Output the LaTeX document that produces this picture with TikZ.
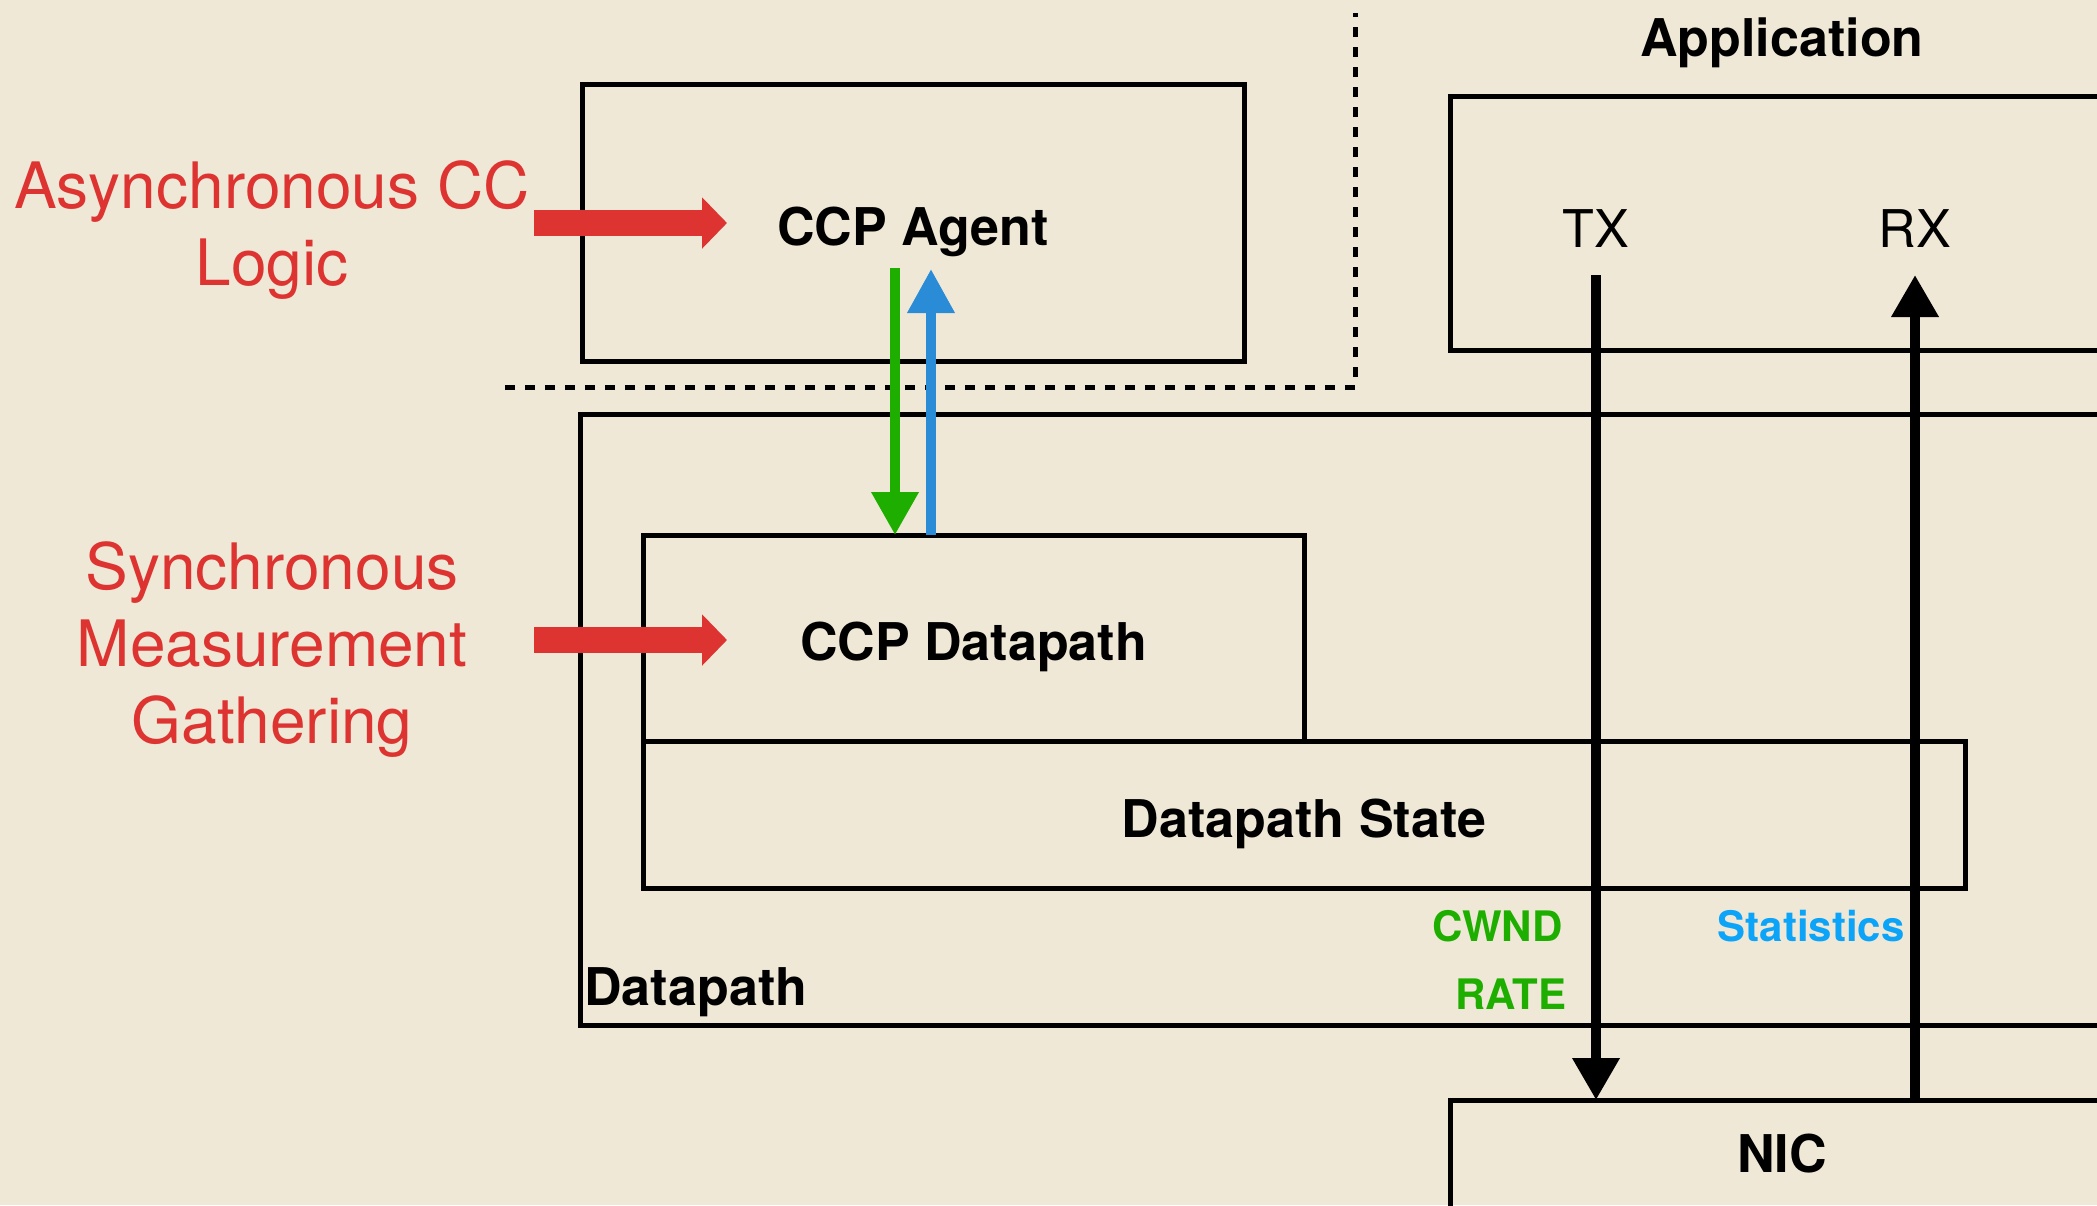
\documentclass[tikz,border=0pt]{standalone}
\usepackage{fontspec}
\setmainfont{TeX Gyre Heros}
\usetikzlibrary{arrows.meta}
\definecolor{bgc}{RGB}{239,232,214}
\definecolor{cred}{RGB}{221,51,49}
\definecolor{cgreen}{RGB}{29,174,0}
\definecolor{cblue}{RGB}{42,139,214}
\definecolor{cstat}{RGB}{11,164,248}
\begin{document}
\begin{tikzpicture}[x=0.5pt,y=-0.5pt,
  box/.style={draw=black, line width=2.5pt, anchor=north west, inner sep=0pt, outer sep=0pt,
    font=\bfseries\fontsize{26}{31}\selectfont, text height=22.7pt, text depth=0pt},
  lbl/.style={font=\bfseries\fontsize{26}{31}\selectfont, inner sep=0pt},
  rlbl/.style={font=\fontsize{26}{31}\selectfont, inner sep=0pt},
  slbl/.style={font=\bfseries\fontsize{21}{25}\selectfont, inner sep=0pt},
  redtext/.style={text=cred, align=center, inner sep=0pt, font=\fontsize{32}{38.5}\selectfont},
  redarrow/.style={draw=cred, line width=13pt, -{Triangle[width=25pt,length=12.5pt]}},
  garrow/.style={draw=cgreen, line width=5pt, -{Triangle[width=22.5pt,length=21.5pt]}},
  barrow/.style={draw=cblue, line width=5pt, -{Triangle[width=22.5pt,length=22pt]}},
  karrow/.style={draw=black, line width=5pt, -{Triangle[width=22.5pt,length=21pt]}},
  dotline/.style={draw=black, line width=2.5pt, dash pattern=on 5pt off 5pt}
]
\useasboundingbox (0,0) rectangle (2097,1205);
\fill[bgc] (0,0) rectangle (2097,1205);
\begin{scope}
\clip (0,0) rectangle (2097,1205);
% boxes
\node[box, minimum width=331pt, minimum height=138.5pt] (agent) at (582,84) {CCP Agent};
\node[box, minimum width=332pt, minimum height=127pt] (app) at (1450,96) {};
\node[box, minimum width=775pt, minimum height=305.5pt] (dpo) at (580,414) {};
\node[box, minimum width=661pt, minimum height=73.5pt] (dps) at (643,741) {Datapath State};
\node[box, minimum width=330.5pt, minimum height=103pt] (ccpdp) at (643,535) {CCP Datapath};
\node[box, minimum width=332pt, minimum height=54pt, text height=18.7pt] (nic) at (1450,1100) {NIC};
% dotted separator
\coordinate (dl) at (505,387);
\coordinate (dc) at (1355,387);
\coordinate (dt) at (1355,13);
\draw[dotline] (dl) -- (dc) -- (dt);
% labels
\node[lbl, anchor=base] (applbl) at (1782,56) {Application};
\node[rlbl, anchor=base] (tx) at (1596,247) {TX};
\node[rlbl, anchor=base] (rx) at (1915,247) {RX};
\node[lbl, anchor=base west] (dplbl) at (584,1005) {Datapath};
\node[slbl, text=cgreen, anchor=base east] (cwnd) at (1563,941) {CWND};
\node[slbl, text=cgreen, anchor=base east] (rate) at (1567,1009) {RATE};
\node[slbl, text=cstat, anchor=base east] (stats) at (1905,941) {Statistics};
\node[redtext] (async) at (272,230.5) {Asynchronous CC\\Logic};
\node[redtext] (sync) at (272,650) {Synchronous\\Measurement\\Gathering};
% arrows
\coordinate (gs) at (895,268);
\coordinate (bs) at (931,269);
\draw[garrow] (gs) -- (gs |- ccpdp.north);
\draw[barrow] (bs |- ccpdp.north) -- (bs);
\coordinate (txs) at (1596,275);
\coordinate (rxe) at (1915,275);
\draw[karrow] (txs) -- (txs |- nic.north);
\draw[karrow] (rxe |- nic.north) -- (rxe);
\coordinate (r1s) at (534,223);
\coordinate (r1e) at (727,223);
\coordinate (r2s) at (534,640);
\coordinate (r2e) at (727,640);
\draw[redarrow] (r1s) -- (r1e);
\draw[redarrow] (r2s) -- (r2e);
\end{scope}
\end{tikzpicture}
\end{document}
